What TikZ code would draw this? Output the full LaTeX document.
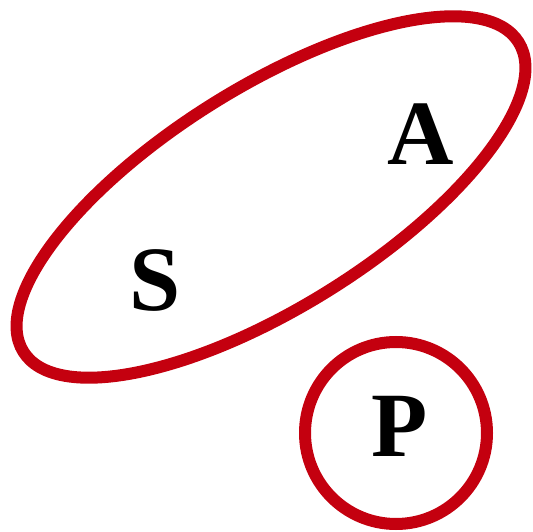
\documentclass[tikz,border=0pt]{standalone}
\usepackage{fontspec}
\setmainfont{Liberation Serif}
\usepackage{xcolor}
\usetikzlibrary{shapes.geometric, positioning}
\definecolor{setred}{HTML}{C4000F}

\begin{document}
\begin{tikzpicture}[x=1pt, y=-1pt,
  every node/.style={font=\fontsize{92}{92}\selectfont\bfseries},
  blob/.style={ellipse, draw=setred, line width=12pt, inner sep=0pt},
  ring/.style={circle, draw=setred, line width=12pt, inner sep=0pt},
]
  \useasboundingbox (0,0) rectangle (533,532);

  \node[blob, rotate=32, minimum width=584pt, minimum height=220pt] (sa) at (271,197) {};
  \node[ring, minimum size=182pt] (pring) at (396,433) {};

  \node (S) at (155,280) {S};
  \node (A) at (421,134) {A};
  \node (P) at (400,426) {P};
\end{tikzpicture}
\end{document}
